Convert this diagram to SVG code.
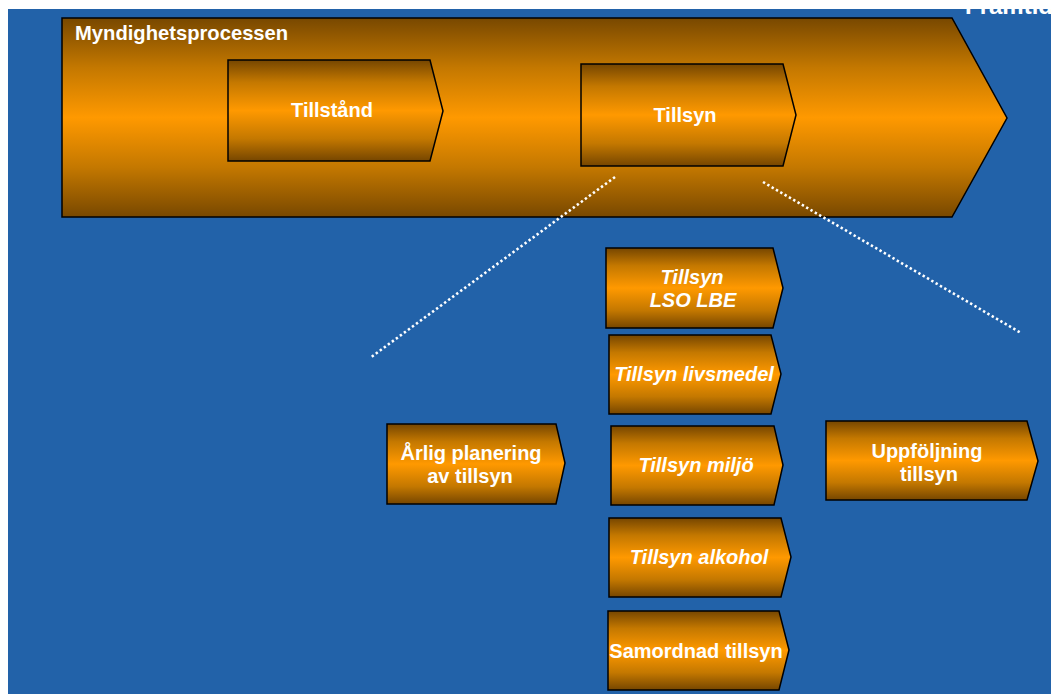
<svg xmlns="http://www.w3.org/2000/svg" width="1051" height="694" viewBox="0 0 1051 694">
<defs>
<linearGradient id="gMain" x1="0" y1="0" x2="0" y2="1">
<stop offset="0" stop-color="#784800"/>
<stop offset="0.25" stop-color="#c47800"/>
<stop offset="0.5" stop-color="#ff9900"/>
<stop offset="0.75" stop-color="#c47800"/>
<stop offset="1" stop-color="#784800"/>
</linearGradient>
<linearGradient id="gBox" x1="0" y1="0" x2="0" y2="1">
<stop offset="0" stop-color="#764600"/>
<stop offset="0.22" stop-color="#c47800"/>
<stop offset="0.5" stop-color="#ff9900"/>
<stop offset="0.78" stop-color="#c47800"/>
<stop offset="1" stop-color="#764600"/>
</linearGradient>
</defs>
<style>
.shape{stroke:#000;stroke-width:1.5;stroke-linejoin:miter}
.main{fill:url(#gMain)}
.box{fill:url(#gBox)}
.t{font-family:"Liberation Sans",Arial,sans-serif;font-weight:bold;font-size:20px;fill:#fff}
.c{text-anchor:middle}
.i{font-style:italic}
.dots{stroke:#fff;stroke-width:2.6;stroke-dasharray:2.4 2.6;fill:none}
</style>
<rect x="0" y="0" width="1051" height="694" fill="#fff"/>
<rect x="8" y="9" width="1043" height="685" fill="#2262a9"/>
<text class="t" x="965" y="14" style="font-size:24px">Framtid</text>

<g id="myndighetsprocessen">
<polygon class="shape main" points="62,18 952,18 1007,118 952,217 62,217"/>
<text class="t" x="75" y="40" style="font-size:20.2px">Myndighetsprocessen</text>
</g>
<g id="tillstand">
<polygon class="shape box" points="228,60 430,60 443,111 430,161 228,161"/>
<text class="t c" x="332" y="117">Tillstånd</text>
</g>
<g id="tillsyn">
<polygon class="shape box" points="581,64 783,64 796,115 783,166 581,166"/>
<text class="t c" x="685" y="122">Tillsyn</text>
</g>

<g id="connectors">
<line class="dots" x1="615" y1="177" x2="370" y2="358"/>
<line class="dots" x1="763" y1="182" x2="1021" y2="333"/>
</g>

<g id="tillsyn-lso-lbe">
<polygon class="shape box" points="606,248 773,248 783,288 773,328 606,328"/>
<text class="t c i" x="692" y="284">Tillsyn</text>
<text class="t c i" x="693" y="307">LSO LBE</text>
</g>
<g id="tillsyn-livsmedel">
<polygon class="shape box" points="609,335 771,335 781,374 771,414 609,414"/>
<text class="t c i" x="694" y="381">Tillsyn livsmedel</text>
</g>
<g id="tillsyn-miljo">
<polygon class="shape box" points="611,426 774,426 783,465 774,505 611,505"/>
<text class="t c i" x="696" y="472">Tillsyn miljö</text>
</g>
<g id="tillsyn-alkohol">
<polygon class="shape box" points="609,518 781,518 791,557 781,597 609,597"/>
<text class="t c i" x="699" y="564">Tillsyn alkohol</text>
</g>
<g id="samordnad-tillsyn">
<polygon class="shape box" points="608,611 779,611 789,650 779,690 608,690"/>
<text class="t c" x="696" y="658">Samordnad tillsyn</text>
</g>
<g id="arlig-planering">
<polygon class="shape box" points="387,424 556,424 565,463 556,504 387,504"/>
<text class="t c" x="471" y="460">Årlig planering</text>
<text class="t c" x="470" y="483">av tillsyn</text>
</g>
<g id="uppfoljning-tillsyn">
<polygon class="shape box" points="826,421 1027,421 1038,461 1027,500 826,500"/>
<text class="t c" x="927" y="458">Uppföljning</text>
<text class="t c" x="929" y="481">tillsyn</text>
</g>
</svg>
